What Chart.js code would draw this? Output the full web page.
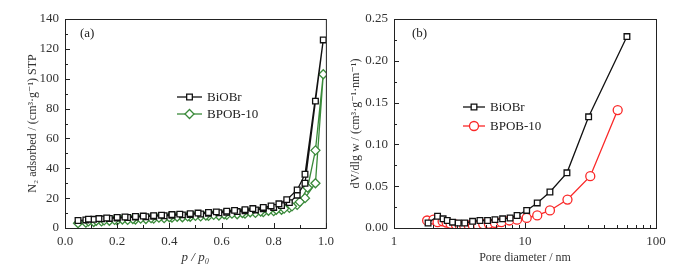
<!DOCTYPE html>
<html>
<head>
<meta charset="utf-8">
<script src="https://cdn.jsdelivr.net/npm/chart.js@4/dist/chart.umd.min.js"></script>
<style>
  html, body { margin: 0; padding: 0; background: #fff; }
  #wrap { position: relative; width: 673px; height: 267px; }
  #box_a { position: absolute; left: 0; top: 0; width: 340px; height: 267px; }
  #box_b { position: absolute; left: 340px; top: 0; width: 333px; height: 267px; }
</style>
</head>
<body>
<div id="wrap">
  <div id="box_a"><canvas id="iso-viz"></canvas></div>
  <div id="box_b"><canvas id="pore-viz"></canvas></div>
</div>
<script>
// (a) N2 isotherms: adsorption branch then desorption branch
var ads_p = [0.05, 0.08, 0.11, 0.14, 0.17, 0.20, 0.24, 0.27, 0.31, 0.34, 0.38, 0.41, 0.45, 0.48, 0.52,
             0.55, 0.59, 0.62, 0.66, 0.69, 0.73, 0.76, 0.80, 0.83, 0.86, 0.89, 0.92, 0.96, 0.99];
var biobr_ads = [5.0, 5.4, 5.8, 6.1, 6.4, 6.7, 7.0, 7.3, 7.6, 7.9, 8.2, 8.5, 8.8, 9.1, 9.4,
                 9.8, 10.2, 10.6, 11.0, 11.5, 12.1, 12.8, 13.8, 15.0, 17.0, 22.0, 30.0, 85.0, 126.0];
var bpob_ads  = [3.2, 3.6, 4.0, 4.4, 4.8, 5.1, 5.4, 5.7, 6.0, 6.3, 6.6, 6.9, 7.2, 7.5, 7.8,
                 8.1, 8.4, 8.8, 9.2, 9.6, 10.1, 10.6, 11.3, 12.2, 13.5, 15.5, 20.0, 30.0, 103.0];

var biobr_des_p = [0.92, 0.89, 0.85, 0.82, 0.79, 0.76, 0.72, 0.69, 0.65, 0.62, 0.58, 0.55, 0.51,
                   0.48, 0.44, 0.41, 0.37, 0.34, 0.30, 0.27, 0.23, 0.20, 0.16, 0.13, 0.09];
var biobr_des = [36.0, 25.5, 19.0, 16.2, 14.8, 13.8, 13.0, 12.3, 11.8, 11.3, 10.8, 10.4, 10.0,
                 9.6, 9.3, 9.0, 8.6, 8.3, 8.0, 7.7, 7.4, 7.1, 6.7, 6.3, 5.9];
var bpob_des_p = [0.96, 0.93, 0.90, 0.87, 0.84, 0.81, 0.78, 0.75, 0.71, 0.68, 0.64, 0.61, 0.57,
                  0.54, 0.50, 0.47, 0.43, 0.40, 0.36, 0.33, 0.29, 0.26, 0.22, 0.19, 0.15, 0.12, 0.09];
var bpob_des = [52.0, 27.0, 17.5, 14.5, 13.0, 12.2, 11.5, 11.0, 10.5, 10.0, 9.6, 9.2, 8.8,
                8.4, 8.1, 7.8, 7.5, 7.2, 6.9, 6.6, 6.3, 6.0, 5.7, 5.4, 5.1, 4.8, 4.4];

// (b) pore size distribution
var biobr_d  = [1.82, 2.15, 2.37, 2.55, 2.8, 3.09, 3.47, 3.98, 4.53, 5.18, 5.9, 6.75, 7.7, 8.7,
                10.3, 12.4, 15.5, 20.9, 30.6, 60.0];
var biobr_dv = [0.006, 0.014, 0.011, 0.009, 0.007, 0.006, 0.006, 0.008, 0.009, 0.009, 0.010, 0.011,
                0.012, 0.015, 0.021, 0.030, 0.043, 0.066, 0.133, 0.229];
var bpob_d  = [1.79, 2.0, 2.15, 2.35, 2.52, 2.7, 2.97, 3.18, 3.43, 3.72, 4.0, 4.4, 4.8, 5.3, 5.9,
               6.6, 7.6, 8.7, 10.3, 12.4, 15.5, 21.1, 31.5, 51.0];
var bpob_dv = [0.009, 0.010, 0.007, 0.008, 0.0065, 0.005, 0.004, 0.003, 0.003, 0.003, 0.003, 0.0025,
               0.0045, 0.005, 0.006, 0.007, 0.009, 0.010, 0.012, 0.015, 0.021, 0.034, 0.062, 0.141];

var labels = ['BiOBr', 'BPOB-10'];

var FONT = '"Liberation Serif", "DejaVu Serif", serif';
var GREEN = 'rgb(58,138,58)';
var RED = 'rgb(250,40,40)';

function toPts(xs, ys) {
	return xs.map(function(x, i) { return { x: x, y: ys[i] }; });
}

function range(a, b, step) {
	var out = [];
	for (var v = a; v <= b + 1e-9; v += step) out.push(+v.toFixed(4));
	return out;
}

// frame + inward ticks + legend + panel tag
var framePlugin = {
	id: 'frame',
	afterDraw: function(chart, args, opts) {
		var ctx = chart.ctx, a = chart.chartArea;
		var xs = chart.scales.x, ys = chart.scales.y;
		ctx.save();
		ctx.strokeStyle = '#222';
		ctx.lineWidth = 1;
		ctx.strokeRect(a.left + 0.5, a.top + 0.5, a.right - a.left, a.bottom - a.top);
		function tickX(list, len) {
			list.forEach(function(v) {
				var px = Math.round(xs.getPixelForValue(v)) + 0.5;
				ctx.beginPath(); ctx.moveTo(px, a.bottom); ctx.lineTo(px, a.bottom - len); ctx.stroke();
			});
		}
		function tickY(list, len) {
			list.forEach(function(v) {
				var py = Math.round(ys.getPixelForValue(v)) + 0.5;
				ctx.beginPath(); ctx.moveTo(a.left, py); ctx.lineTo(a.left + len, py); ctx.stroke();
			});
		}
		tickX(opts.xMajor, 5); tickX(opts.xMinor, 3);
		tickY(opts.yMajor, 5); tickY(opts.yMinor, 3);

		// panel tag
		ctx.fillStyle = '#222';
		ctx.font = '13px ' + FONT;
		ctx.textBaseline = 'middle';
		ctx.fillText(opts.tag, opts.tagX, opts.tagY);

		// legend
		chart.data.datasets.forEach(function(ds, i) {
			var y = opts.legY + i * opts.legGap;
			ctx.strokeStyle = ds.borderColor;
			ctx.lineWidth = 1.3;
			ctx.beginPath(); ctx.moveTo(opts.legX, y); ctx.lineTo(opts.legX + opts.legLen, y); ctx.stroke();
			ctx.fillStyle = '#fff';
			Chart.helpers.drawPoint(ctx, {
				pointStyle: ds.pointStyle, radius: ds.pointRadius, borderWidth: ds.pointBorderWidth, rotation: 0
			}, opts.legX + opts.legLen / 2, y);
			ctx.fillStyle = '#222';
			ctx.font = '13px ' + FONT;
			ctx.fillText(ds.label, opts.legX + opts.legLen + 5, y + 1);
		});
		ctx.restore();
	}
};

function makeDataset(label, pts, color, style, radius) {
	return {
		label: label,
		data: pts,
		borderColor: color,
		backgroundColor: '#fff',
		pointBackgroundColor: '#fff',
		pointBorderColor: color,
		borderWidth: 1.3,
		pointBorderWidth: 1.3,
		pointStyle: style,
		pointRadius: radius,
		tension: 0
	};
}

function makeChart(canvas_id, datasets, xScale, yScale, yWidth, rightPad, frameOpts) {
	var ctx = document.getElementById(canvas_id);
	xScale.afterFit = function(s) { s.height = 39; };
	yScale.afterFit = function(s) { s.width = yWidth; };
	var cfg = {
		type: 'line',
		data: { datasets: datasets },
		options: {
			responsive: true,
			maintainAspectRatio: false,
			animation: false,
			layout: { padding: { left: 0, right: rightPad, top: 19, bottom: 0 } },
			plugins: {
				legend: { display: false },
				tooltip: { enabled: false },
				frame: frameOpts
			},
			scales: { x: xScale, y: yScale }
		},
		plugins: [framePlugin]
	};
	return new Chart(ctx, cfg);
}

var tickFont = { family: FONT, size: 13 };
var titleFont = { family: FONT, size: 12 };

// (a)
makeChart('iso-viz', [
		makeDataset(labels[0], toPts(ads_p, biobr_ads).concat(toPts(biobr_des_p, biobr_des)), '#111', 'rect', 4),
		makeDataset(labels[1], toPts(ads_p, bpob_ads).concat(toPts(bpob_des_p, bpob_des)), GREEN, 'rectRot', 4.5)
	], {
		type: 'linear', min: 0, max: 1,
		grid: { display: false, drawTicks: false },
		border: { display: false },
		ticks: { stepSize: 0.2, color: '#333', font: tickFont, padding: 6,
		         callback: function(v) { return v.toFixed(1); } },
		title: { display: true, text: 'p / p₀', color: '#333', padding: { top: 0, bottom: 2 },
		         font: { family: FONT, size: 13, style: 'italic' } }
	}, {
		type: 'linear', min: 0, max: 140,
		grid: { display: false, drawTicks: false },
		border: { display: false },
		ticks: { stepSize: 20, color: '#333', font: tickFont, padding: 6 },
		title: { display: true, text: 'N₂ adsorbed / (cm³·g⁻¹) STP', color: '#333',
		         padding: { top: 26, bottom: 0 }, font: titleFont }
	}, 65, 14, {
		xMajor: range(0, 1, 0.2), xMinor: range(0.1, 0.9, 0.2),
		yMajor: range(0, 140, 20), yMinor: range(10, 130, 20),
		tag: '(a)', tagX: 80, tagY: 34,
		legX: 177, legY: 97, legGap: 17, legLen: 25
	});

// (b)
makeChart('pore-viz', [
		makeDataset(labels[0], toPts(biobr_d, biobr_dv), '#111', 'rect', 4),
		makeDataset(labels[1], toPts(bpob_d, bpob_dv), RED, 'circle', 4.5)
	], {
		type: 'logarithmic', min: 1, max: 100,
		grid: { display: false, drawTicks: false },
		border: { display: false },
		afterBuildTicks: function(s) { s.ticks = [1, 10, 100].map(function(v) { return { value: v }; }); },
		ticks: { color: '#333', font: tickFont, padding: 6, autoSkip: false, maxRotation: 0,
		         callback: function(v) { return String(v); } },
		title: { display: true, text: 'Pore diameter / nm', color: '#333', padding: { top: 0, bottom: 2 },
		         font: titleFont }
	}, {
		type: 'linear', min: 0, max: 0.25,
		grid: { display: false, drawTicks: false },
		border: { display: false },
		ticks: { stepSize: 0.05, color: '#333', font: tickFont, padding: 6,
		         callback: function(v) { return v.toFixed(2); } },
		title: { display: true, text: 'dV/dlg w / (cm³·g⁻¹·nm⁻¹)', color: '#333',
		         padding: { top: 9, bottom: 0 }, font: titleFont }
	}, 54, 17, {
		xMajor: [1, 10, 100], xMinor: [2, 3, 4, 5, 6, 7, 8, 9, 20, 30, 40, 50, 60, 70, 80, 90],
		yMajor: range(0, 0.25, 0.05), yMinor: range(0.025, 0.225, 0.05),
		tag: '(b)', tagX: 72, tagY: 34,
		legX: 123, legY: 107, legGap: 19, legLen: 22
	});
</script>
</body>
</html>
